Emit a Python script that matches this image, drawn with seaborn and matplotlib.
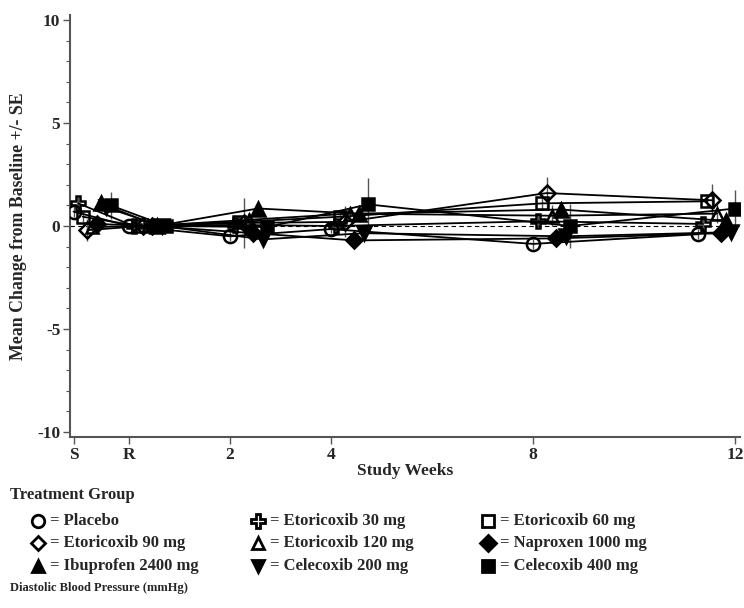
import numpy as np
import pandas as pd
import matplotlib
matplotlib.use("Agg")
import matplotlib.pyplot as plt
import seaborn as sns
from matplotlib.lines import Line2D
from matplotlib.ticker import MultipleLocator

# ---------------- data ----------------
visits = ["S", "R", "2", "4", "8", "12"]
visit_week = [-1.1, 0.0, 2.0, 4.0, 8.0, 11.27]
tick_week = [-1.1, 0.0, 2.0, 4.0, 8.0, 12.0]
tick_labels = ["S", "R", "2", "4", "8", "12"]

groups = ["Placebo", "Etoricoxib 30 mg", "Etoricoxib 60 mg",
          "Etoricoxib 90 mg", "Etoricoxib 120 mg", "Naproxen 1000 mg",
          "Ibuprofen 2400 mg", "Celecoxib 200 mg", "Celecoxib 400 mg"]

placebo_mean = [0.70, 0.0, -0.50, -0.15, -0.87, -0.40]
eto30_mean = [1.10, 0.0, 0.05, 0.00, 0.23, 0.10]
eto60_mean = [0.45, 0.0, 0.20, 0.45, 1.10, 1.20]
eto90_mean = [-0.20, 0.0, 0.15, 0.20, 1.60, 1.25]
eto120_mean = [-0.05, 0.0, 0.30, 0.60, 0.50, 0.60]
naproxen_mean = [0.10, 0.0, -0.35, -0.70, -0.60, -0.35]
ibuprofen_mean = [1.10, 0.0, 0.85, 0.60, 0.80, 0.25]
cel200_mean = [0.90, 0.0, -0.65, -0.35, -0.50, -0.30]
cel400_mean = [1.00, 0.0, -0.05, 1.05, 0.00, 0.85]

placebo_se = [0.25, 0.0, 0.25, 0.20, 0.25, 0.25]
eto30_se = [0.30, 0.0, 0.30, 0.30, 0.25, 0.30]
eto60_se = [0.30, 0.0, 0.30, 0.30, 0.30, 0.30]
eto90_se = [0.55, 0.0, 1.20, 0.75, 0.80, 0.80]
eto120_se = [0.30, 0.0, 0.35, 0.35, 0.50, 0.45]
naproxen_se = [0.25, 0.0, 0.25, 0.25, 0.25, 0.25]
ibuprofen_se = [0.30, 0.0, 0.30, 0.30, 0.30, 0.30]
cel200_se = [0.30, 0.0, 0.30, 0.30, 0.30, 0.30]
cel400_se = [0.65, 0.0, 0.40, 1.30, 1.05, 0.90]

means = [placebo_mean, eto30_mean, eto60_mean, eto90_mean, eto120_mean,
         naproxen_mean, ibuprofen_mean, cel200_mean, cel400_mean]
ses = [placebo_se, eto30_se, eto60_se, eto90_se, eto120_se,
       naproxen_se, ibuprofen_se, cel200_se, cel400_se]

dodge_step = 0.092

# ---------------- styles ----------------
markers = ["o", "P", "s", "D", "^", "D", "^", "v", "s"]
filled = [False, False, False, False, False, True, True, True, True]
msizes = [9.5, 10, 8.5, 8, 9, 8.5, 9.5, 9.5, 8.5]

rows = []
for gi, g in enumerate(groups):
    for vi, v in enumerate(visits):
        rows.append({"group": g, "visit": v,
                     "x": visit_week[vi] + gi * dodge_step,
                     "mean": means[gi][vi], "se": ses[gi][vi]})
df = pd.DataFrame(rows)

sns.set_style("ticks")
serif = "Liberation Serif"
plt.rcParams["font.family"] = [serif, "DejaVu Serif"]
plt.rcParams["font.weight"] = "bold"
plt.rcParams["axes.unicode_minus"] = False

fig = plt.figure(figsize=(7.44, 6.08), dpi=100)
ax = fig.add_axes([70 / 744, 1 - 437 / 608, 670 / 744, 422 / 608])

ax.axhline(0, color="black", lw=0.8, ls=(0, (4, 3)), zorder=0)

for gi, g in enumerate(groups):
    sub = df[df["group"] == g]
    ax.errorbar(sub["x"], sub["mean"], yerr=sub["se"], fmt="none",
                ecolor="#555555", elinewidth=1.0, capsize=0, zorder=1)
    sns.lineplot(data=sub, x="x", y="mean", ax=ax, sort=False, estimator=None,
                 color="black", lw=1.3, marker=markers[gi], markersize=msizes[gi],
                 markerfacecolor="black" if filled[gi] else "none",
                 markeredgecolor="black", markeredgewidth=1.8, legend=False,
                 zorder=3)

ax.set_xlim(-1.17, 12.1)
ax.set_ylim(-10.25, 10.25)
ax.set_xticks(tick_week)
ax.set_xticklabels(tick_labels)
ax.set_yticks([-10, -5, 0, 5, 10])
ax.yaxis.set_minor_locator(MultipleLocator(1))
for lab in ax.get_xticklabels() + ax.get_yticklabels():
    lab.set_fontweight("bold")
    lab.set_fontsize(12.5)
ax.tick_params(axis="both", which="major", length=5, width=1.0, color="#555555",
               pad=2)
ax.tick_params(axis="y", which="minor", length=3, width=0.8, color="#555555")
for s in ["top", "right"]:
    ax.spines[s].set_visible(False)
for s in ["left", "bottom"]:
    ax.spines[s].set_color("#555555")
    ax.spines[s].set_linewidth(1.5)

ax.set_xlabel("Study Weeks", fontsize=12.5, fontweight="bold", labelpad=0)
ax.set_ylabel("Mean Change from Baseline +/- SE", fontsize=12.8,
              fontweight="bold", labelpad=7)

# ---------------- legend ----------------
fig.text(10 / 744, 1 - 495 / 608, "Treatment Group", fontsize=12,
         fontweight="bold", va="center", ha="left")
col_x = [38, 258, 488]
row_y = [521, 543, 566]
for gi, g in enumerate(groups):
    r, c = divmod(gi, 3)
    mx = col_x[c] / 744
    my = 1 - row_y[r] / 608
    fig.add_artist(Line2D([mx], [my], transform=fig.transFigure,
                          marker=markers[gi], markersize=msizes[gi] - 0.5,
                          markerfacecolor="black" if filled[gi] else "none",
                          markeredgecolor="black", markeredgewidth=2.0,
                          linestyle="none"))
    fig.text(mx + 12 / 744, my, "= " + g, fontsize=12, fontweight="bold",
             va="center", ha="left")

fig.text(10 / 744, 1 - 588 / 608, "Diastolic Blood Pressure (mmHg)", fontsize=9,
         fontweight="bold", va="center", ha="left")

fig.savefig("out.png", dpi=100)
